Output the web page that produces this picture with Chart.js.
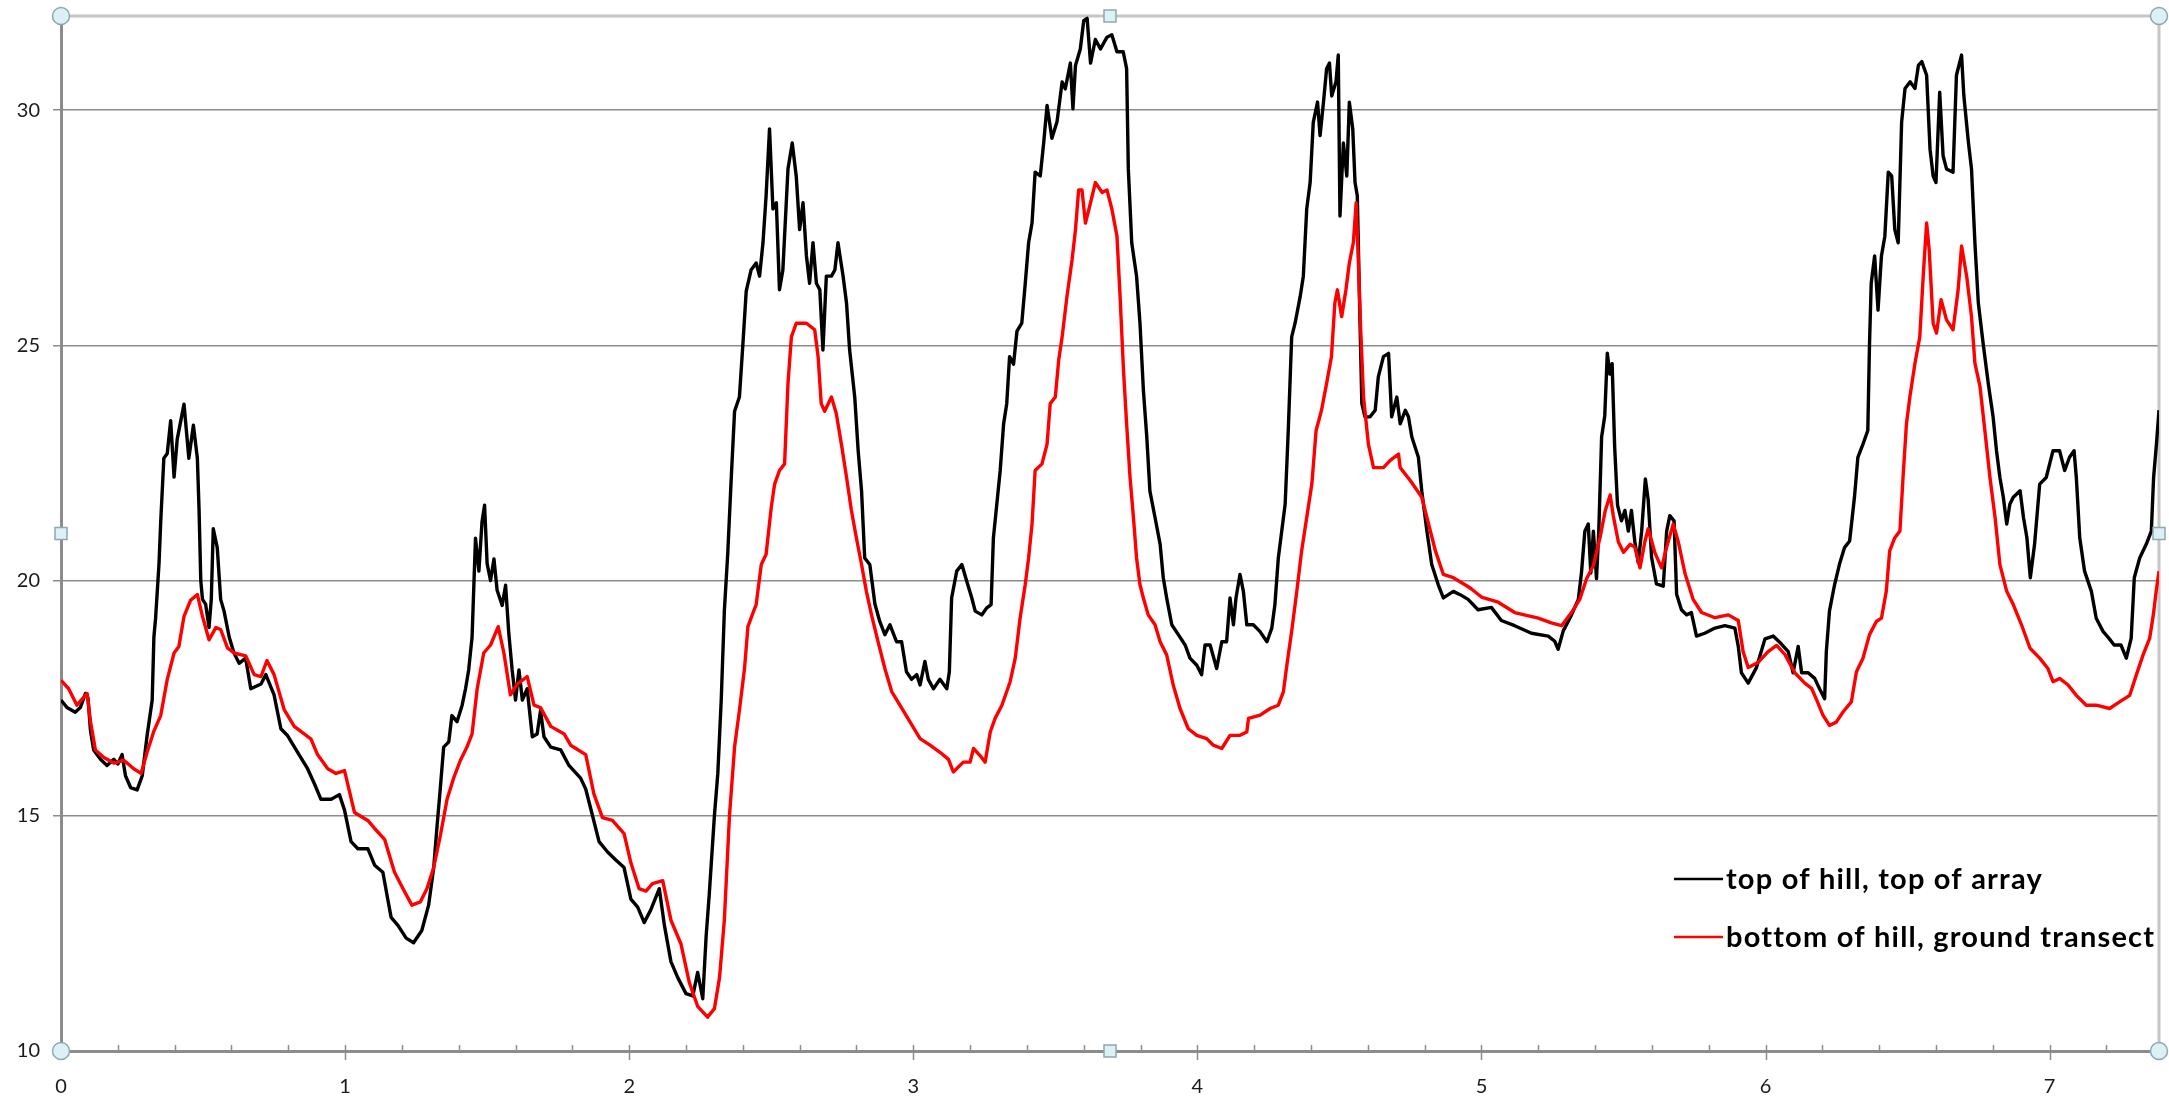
<!DOCTYPE html>
<html>
<head>
<meta charset="utf-8">
<script src="https://cdn.jsdelivr.net/npm/chart.js@4.4.1/dist/chart.umd.min.js"></script>
<style>
  html, body { margin: 0; padding: 0; background: #ffffff; }
  #chart-box { width: 2169px; height: 1096px; }
</style>
</head>
<body>
<div id="chart-box">
  <canvas id="hill-chart" width="2169" height="1096"></canvas>
</div>
<script>
// series (x = distance, y = value)
const topOfHillX = [
    0, 0.021, 0.05, 0.068, 0.086, 0.095, 0.104, 0.115, 0.139, 0.162, 0.186, 0.2, 0.215, 0.227, 0.245, 0.268, 0.286, 0.303, 0.321, 0.327,
    0.333, 0.345, 0.351, 0.362, 0.374, 0.386, 0.398, 0.409, 0.433, 0.45, 0.466, 0.48, 0.486, 0.492, 0.498, 0.509, 0.521, 0.529, 0.536, 0.55,
    0.562, 0.574, 0.592, 0.609, 0.627, 0.65, 0.668, 0.704, 0.721, 0.75, 0.774, 0.798, 0.833, 0.868, 0.892, 0.915, 0.951, 0.98, 0.998, 1.021,
    1.045, 1.08, 1.104, 1.133, 1.151, 1.162, 1.186, 1.215, 1.241, 1.27, 1.294, 1.312, 1.324, 1.335, 1.347, 1.365, 1.376, 1.394, 1.412, 1.424,
    1.435, 1.447, 1.459, 1.471, 1.482, 1.491, 1.5, 1.512, 1.524, 1.535, 1.553, 1.565, 1.576, 1.588, 1.6, 1.612, 1.624, 1.641, 1.659, 1.676,
    1.688, 1.7, 1.724, 1.759, 1.788, 1.829, 1.847, 1.871, 1.894, 1.924, 1.953, 1.982, 2.006, 2.03, 2.053, 2.076, 2.106, 2.124, 2.147, 2.171,
    2.2, 2.224, 2.241, 2.259, 2.271, 2.282, 2.3, 2.312, 2.324, 2.335, 2.347, 2.359, 2.371, 2.388, 2.4, 2.412, 2.429, 2.447, 2.459, 2.471,
    2.482, 2.494, 2.506, 2.518, 2.529, 2.541, 2.559, 2.574, 2.588, 2.6, 2.612, 2.624, 2.635, 2.647, 2.659, 2.671, 2.682, 2.694, 2.712, 2.724,
    2.735, 2.753, 2.765, 2.776, 2.794, 2.806, 2.818, 2.829, 2.847, 2.865, 2.882, 2.9, 2.918, 2.941, 2.959, 2.976, 2.994, 3.012, 3.024, 3.041,
    3.053, 3.071, 3.094, 3.118, 3.127, 3.135, 3.153, 3.171, 3.188, 3.206, 3.218, 3.241, 3.259, 3.274, 3.282, 3.294, 3.306, 3.318, 3.329, 3.339,
    3.353, 3.365, 3.382, 3.394, 3.406, 3.418, 3.429, 3.447, 3.459, 3.471, 3.488, 3.506, 3.524, 3.535, 3.553, 3.562, 3.571, 3.588, 3.6, 3.612,
    3.624, 3.641, 3.659, 3.682, 3.699, 3.717, 3.739, 3.751, 3.757, 3.769, 3.786, 3.798, 3.81, 3.822, 3.833, 3.851, 3.869, 3.88, 3.892, 3.91,
    3.933, 3.957, 3.974, 3.998, 4.015, 4.027, 4.045, 4.068, 4.086, 4.103, 4.115, 4.127, 4.136, 4.15, 4.162, 4.174, 4.197, 4.22, 4.245, 4.262,
    4.273, 4.285, 4.297, 4.309, 4.32, 4.332, 4.344, 4.362, 4.373, 4.385, 4.397, 4.408, 4.423, 4.432, 4.444, 4.455, 4.465, 4.473, 4.488, 4.496,
    4.502, 4.514, 4.526, 4.535, 4.547, 4.555, 4.563, 4.57, 4.579, 4.59, 4.608, 4.626, 4.637, 4.655, 4.673, 4.684, 4.702, 4.714, 4.732, 4.743,
    4.755, 4.778, 4.79, 4.808, 4.825, 4.848, 4.866, 4.901, 4.925, 4.953, 4.988, 5.035, 5.07, 5.117, 5.176, 5.235, 5.258, 5.27, 5.288, 5.317,
    5.341, 5.352, 5.364, 5.376, 5.385, 5.394, 5.405, 5.413, 5.423, 5.434, 5.443, 5.452, 5.46, 5.469, 5.479, 5.493, 5.505, 5.517, 5.528, 5.54,
    5.552, 5.564, 5.577, 5.587, 5.599, 5.616, 5.64, 5.652, 5.663, 5.678, 5.687, 5.704, 5.722, 5.739, 5.757, 5.786, 5.822, 5.857, 5.892, 5.904,
    5.915, 5.939, 5.968, 5.998, 6.027, 6.056, 6.08, 6.097, 6.115, 6.127, 6.15, 6.173, 6.19, 6.208, 6.214, 6.225, 6.243, 6.26, 6.278, 6.296,
    6.313, 6.325, 6.343, 6.36, 6.366, 6.372, 6.384, 6.396, 6.408, 6.42, 6.432, 6.444, 6.455, 6.467, 6.479, 6.491, 6.509, 6.526, 6.538, 6.55,
    6.567, 6.579, 6.59, 6.6, 6.613, 6.625, 6.637, 6.66, 6.672, 6.69, 6.698, 6.714, 6.725, 6.737, 6.749, 6.766, 6.784, 6.801, 6.813, 6.825,
    6.837, 6.849, 6.86, 6.872, 6.896, 6.908, 6.92, 6.932, 6.947, 6.965, 6.988, 7.012, 7.035, 7.053, 7.07, 7.086, 7.094, 7.106, 7.123, 7.147,
    7.164, 7.188, 7.209, 7.227, 7.251, 7.27, 7.287, 7.298, 7.317, 7.34, 7.358, 7.366, 7.376, 7.385
];
const topOfHillY = [
    17.46, 17.3, 17.2, 17.3, 17.6, 17.5, 16.8, 16.4, 16.2, 16.07, 16.2, 16.1, 16.3, 15.85, 15.6, 15.55, 15.85, 16.7, 17.46, 18.8,
    19.2, 20.36, 21.25, 22.6, 22.7, 23.4, 22.2, 23.0, 23.75, 22.6, 23.3, 22.6, 21.5, 20.0, 19.6, 19.5, 19.0, 19.6, 21.1, 20.7,
    19.6, 19.35, 18.8, 18.46, 18.24, 18.35, 17.7, 17.8, 18.0, 17.57, 16.85, 16.7, 16.35, 16.0, 15.68, 15.35, 15.35, 15.45, 15.12, 14.45,
    14.3, 14.3, 13.95, 13.8, 13.2, 12.84, 12.67, 12.4, 12.3, 12.56, 13.1, 13.9, 14.8, 15.57, 16.46, 16.57, 17.13, 17.0, 17.35, 17.7,
    18.1, 18.8, 20.9, 20.2, 21.25, 21.6, 20.36, 20.0, 20.46, 19.8, 19.47, 19.9, 18.9, 18.1, 17.46, 18.1, 17.46, 17.7, 16.68, 16.74,
    17.24, 16.68, 16.46, 16.4, 16.07, 15.8, 15.57, 15.0, 14.45, 14.23, 14.06, 13.9, 13.23, 13.06, 12.73, 13.0, 13.45, 12.67, 11.9, 11.56,
    11.22, 11.17, 11.67, 11.11, 12.45, 13.34, 15.0, 15.9, 17.46, 19.35, 20.58, 22.14, 23.6, 23.9, 25.0, 26.15, 26.6, 26.75, 26.47, 27.18,
    28.18, 29.6, 27.9, 28.03, 26.18, 26.6, 28.75, 29.3, 28.6, 27.46, 28.03, 26.9, 26.32, 27.18, 26.32, 26.18, 24.9, 26.47, 26.47, 26.6,
    27.18, 26.47, 25.9, 24.9, 23.9, 22.76, 21.9, 20.48, 20.34, 19.5, 19.13, 18.85, 19.06, 18.7, 18.7, 18.06, 17.9, 18.0, 17.78, 18.28,
    17.9, 17.7, 17.9, 17.7, 18.06, 19.63, 20.2, 20.34, 19.99, 19.63, 19.35, 19.27, 19.42, 19.49, 20.9, 21.62, 22.34, 23.33, 23.76, 24.76,
    24.6, 25.3, 25.47, 26.3, 27.18, 27.6, 28.68, 28.6, 29.3, 30.1, 29.4, 29.75, 30.6, 30.45, 31.0, 30.03, 30.95, 31.3, 31.9, 31.95,
    31.0, 31.5, 31.3, 31.55, 31.6, 31.24, 31.24, 30.88, 28.75, 27.18, 26.47, 25.47, 24.05, 23.05, 21.9, 21.34, 20.77, 20.06, 19.63, 19.06,
    18.85, 18.63, 18.35, 18.2, 18.0, 18.63, 18.63, 18.13, 18.7, 18.7, 19.63, 19.06, 19.63, 20.13, 19.77, 19.06, 19.06, 18.92, 18.7, 18.99,
    19.49, 20.48, 21.05, 21.62, 23.19, 25.18, 25.47, 26.04, 26.47, 27.9, 28.46, 29.74, 30.17, 29.46, 30.17, 30.88, 31.0, 30.3, 30.6, 31.17,
    27.75, 29.3, 28.6, 30.17, 29.6, 28.46, 28.18, 26.18, 23.76, 23.48, 23.48, 23.62, 24.33, 24.76, 24.83, 23.48, 23.9, 23.33, 23.62, 23.48,
    23.05, 22.62, 21.9, 21.05, 20.34, 19.91, 19.63, 19.77, 19.7, 19.6, 19.38, 19.43, 19.15, 19.04, 18.88, 18.82, 18.71, 18.54, 18.93, 19.27,
    19.6, 20.16, 21.05, 21.2, 20.16, 21.05, 20.04, 21.05, 23.05, 23.5, 24.83, 24.39, 24.61, 22.83, 21.6, 21.27, 21.49, 21.05, 21.49, 20.82,
    20.38, 21.05, 22.16, 21.71, 20.49, 19.93, 19.88, 21.05, 21.38, 21.27, 19.71, 19.38, 19.27, 19.32, 18.82, 18.88, 18.99, 19.04, 18.99, 18.6,
    18.04, 17.82, 18.15, 18.76, 18.82, 18.65, 18.49, 18.04, 18.6, 18.04, 18.04, 17.92, 17.7, 17.49, 18.49, 19.35, 19.91, 20.34, 20.7, 20.84,
    21.77, 22.62, 22.9, 23.19, 25.04, 26.32, 26.9, 25.75, 26.9, 27.32, 28.68, 28.6, 27.46, 27.18, 29.74, 30.46, 30.6, 30.46, 30.95, 31.03,
    30.74, 29.17, 28.6, 28.46, 30.38, 29.03, 28.75, 28.68, 30.74, 31.17, 30.31, 29.32, 28.75, 27.18, 25.9, 25.04, 24.19, 23.48, 22.76, 22.19,
    21.77, 21.2, 21.62, 21.77, 21.91, 21.34, 20.91, 20.06, 20.77, 22.05, 22.19, 22.76, 22.76, 22.34, 22.62, 22.76, 22.19, 20.91, 20.2, 19.77,
    19.2, 18.92, 18.77, 18.63, 18.63, 18.35, 18.77, 20.06, 20.48, 20.77, 21.05, 22.19, 22.9, 23.62
];

const groundTransectX = [
    0, 0.027, 0.056, 0.092, 0.104, 0.121, 0.151, 0.186, 0.221, 0.256, 0.282, 0.303, 0.327, 0.351, 0.374, 0.398, 0.415, 0.433, 0.456, 0.48,
    0.498, 0.521, 0.545, 0.562, 0.586, 0.609, 0.65, 0.68, 0.704, 0.725, 0.75, 0.786, 0.821, 0.856, 0.88, 0.903, 0.939, 0.968, 0.998, 1.033,
    1.08, 1.104, 1.139, 1.174, 1.204, 1.235, 1.265, 1.288, 1.312, 1.335, 1.359, 1.382, 1.406, 1.429, 1.447, 1.465, 1.488, 1.512, 1.539, 1.559,
    1.582, 1.606, 1.641, 1.665, 1.688, 1.724, 1.771, 1.794, 1.847, 1.876, 1.906, 1.941, 1.982, 2.006, 2.035, 2.059, 2.082, 2.118, 2.147, 2.182,
    2.212, 2.241, 2.276, 2.3, 2.318, 2.335, 2.353, 2.371, 2.388, 2.406, 2.418, 2.435, 2.447, 2.465, 2.482, 2.5, 2.512, 2.529, 2.547, 2.559,
    2.571, 2.588, 2.624, 2.653, 2.665, 2.676, 2.688, 2.712, 2.729, 2.747, 2.765, 2.782, 2.8, 2.818, 2.835, 2.853, 2.876, 2.9, 2.924, 2.953,
    2.988, 3.024, 3.059, 3.094, 3.124, 3.141, 3.176, 3.2, 3.212, 3.235, 3.253, 3.271, 3.288, 3.312, 3.341, 3.359, 3.376, 3.394, 3.406, 3.418,
    3.429, 3.453, 3.471, 3.482, 3.5, 3.512, 3.524, 3.541, 3.559, 3.571, 3.582, 3.594, 3.606, 3.624, 3.641, 3.665, 3.682, 3.699, 3.717, 3.728,
    3.74, 3.751, 3.763, 3.775, 3.786, 3.798, 3.81, 3.827, 3.851, 3.869, 3.892, 3.915, 3.939, 3.968, 3.998, 4.033, 4.056, 4.086, 4.115, 4.15,
    4.174, 4.18, 4.221, 4.256, 4.285, 4.303, 4.315, 4.332, 4.35, 4.367, 4.385, 4.403, 4.418, 4.437, 4.455, 4.472, 4.484, 4.493, 4.508, 4.523,
    4.535, 4.549, 4.559, 4.567, 4.575, 4.585, 4.602, 4.62, 4.655, 4.678, 4.708, 4.714, 4.75, 4.79, 4.808, 4.838, 4.866, 4.901, 4.948, 4.965,
    5.0, 5.059, 5.117, 5.2, 5.246, 5.282, 5.317, 5.346, 5.37, 5.394, 5.418, 5.436, 5.453, 5.464, 5.482, 5.5, 5.523, 5.54, 5.558, 5.575,
    5.587, 5.61, 5.634, 5.652, 5.675, 5.693, 5.716, 5.745, 5.775, 5.822, 5.869, 5.904, 5.921, 5.939, 5.974, 6.009, 6.039, 6.068, 6.103, 6.138,
    6.162, 6.178, 6.202, 6.225, 6.249, 6.272, 6.302, 6.32, 6.343, 6.366, 6.39, 6.408, 6.425, 6.437, 6.455, 6.473, 6.484, 6.496, 6.508, 6.526,
    6.543, 6.555, 6.567, 6.576, 6.59, 6.602, 6.618, 6.637, 6.66, 6.678, 6.69, 6.708, 6.725, 6.737, 6.755, 6.772, 6.79, 6.808, 6.825, 6.849,
    6.872, 6.901, 6.931, 6.965, 6.994, 7.012, 7.035, 7.065, 7.094, 7.129, 7.164, 7.211, 7.246, 7.282, 7.305, 7.329, 7.352, 7.365, 7.375, 7.385
];
const groundTransectY = [
    17.88, 17.7, 17.35, 17.6, 17.0, 16.4, 16.24, 16.12, 16.18, 16.0, 15.9, 16.35, 16.8, 17.13, 17.9, 18.46, 18.6, 19.24, 19.58, 19.7,
    19.24, 18.74, 19.0, 18.96, 18.57, 18.46, 18.4, 18.0, 17.96, 18.3, 18.0, 17.25, 16.9, 16.74, 16.63, 16.3, 16.0, 15.9, 15.96, 15.07,
    14.9, 14.73, 14.5, 13.8, 13.45, 13.1, 13.17, 13.45, 13.9, 14.57, 15.35, 15.8, 16.18, 16.46, 16.74, 17.7, 18.46, 18.63, 19.02, 18.46,
    17.57, 17.8, 17.96, 17.35, 17.3, 16.9, 16.74, 16.5, 16.3, 15.46, 14.96, 14.9, 14.62, 14.0, 13.45, 13.4, 13.56, 13.62, 12.78, 12.28,
    11.45, 10.95, 10.72, 10.9, 11.56, 12.78, 15.0, 16.46, 17.24, 18.13, 19.02, 19.3, 19.49, 20.34, 20.56, 21.55, 22.05, 22.34, 22.48, 24.19,
    25.18, 25.47, 25.47, 25.33, 24.76, 23.76, 23.6, 23.9, 23.55, 22.9, 22.2, 21.5, 20.9, 20.34, 19.77, 19.27, 18.7, 18.13, 17.64, 17.35,
    17.0, 16.64, 16.5, 16.35, 16.2, 15.93, 16.14, 16.14, 16.43, 16.28, 16.14, 16.78, 17.07, 17.35, 17.85, 18.35, 19.2, 19.91, 20.48, 21.2,
    22.34, 22.48, 22.9, 23.76, 23.9, 24.69, 25.18, 26.04, 26.82, 27.46, 28.3, 28.3, 27.6, 28.03, 28.46, 28.25, 28.3, 27.9, 27.32, 26.04,
    24.47, 23.33, 22.2, 21.34, 20.48, 19.91, 19.63, 19.27, 19.06, 18.7, 18.42, 17.78, 17.28, 16.85, 16.71, 16.64, 16.5, 16.43, 16.71, 16.71,
    16.78, 17.07, 17.14, 17.28, 17.35, 17.64, 18.2, 18.92, 19.77, 20.63, 21.34, 22.05, 23.19, 23.62, 24.19, 24.76, 25.9, 26.18, 25.61, 26.18,
    26.75, 27.18, 28.03, 26.75, 25.33, 23.9, 22.9, 22.4, 22.4, 22.55, 22.69, 22.4, 22.12, 21.77, 21.34, 20.63, 20.13, 20.06, 19.89, 19.82,
    19.65, 19.54, 19.32, 19.2, 19.1, 19.04, 19.32, 19.6, 20.04, 20.32, 20.93, 21.49, 21.82, 21.38, 20.82, 20.6, 20.77, 20.71, 20.27, 20.82,
    21.1, 20.6, 20.27, 20.71, 21.2, 20.82, 20.16, 19.6, 19.32, 19.21, 19.27, 19.15, 18.49, 18.15, 18.26, 18.49, 18.62, 18.43, 18.04, 17.82,
    17.71, 17.49, 17.14, 16.92, 16.99, 17.2, 17.42, 18.06, 18.35, 18.85, 19.13, 19.2, 19.77, 20.63, 20.91, 21.05, 22.19, 23.33, 23.9, 24.62,
    25.18, 26.47, 27.6, 27.04, 25.47, 25.26, 25.97, 25.54, 25.33, 26.18, 27.11, 26.47, 25.61, 24.62, 24.12, 23.19, 22.19, 21.34, 20.34, 19.77,
    19.49, 19.06, 18.56, 18.35, 18.13, 17.85, 17.92, 17.78, 17.56, 17.35, 17.35, 17.28, 17.42, 17.56, 17.99, 18.42, 18.77, 19.27, 19.77, 20.2
];

const yTickValues = [10, 15, 20, 25, 30];
const xTickLabels = [0, 1, 2, 3, 4, 5, 6, 7];

const toPoints = (xs, ys) => xs.map((x, i) => ({ x: x, y: ys[i] }));

// Excel look: light frame, minor ticks, selection handles and the in-plot legend
const excelFrame = {
    id: 'excelFrame',
    beforeDatasetsDraw(chart) {
        const { ctx, chartArea } = chart;
        ctx.save();
        ctx.strokeStyle = '#c6c6c6';
        ctx.lineWidth = 3;
        ctx.beginPath();
        ctx.moveTo(chartArea.left, chartArea.top);
        ctx.lineTo(chartArea.right, chartArea.top);
        ctx.lineTo(chartArea.right, chartArea.bottom);
        ctx.stroke();
        ctx.restore();
    },
    afterDraw(chart) {
        const { ctx, chartArea } = chart;
        const xScale = chart.scales.x;
        const bottom = chartArea.bottom;

        // x tick marks: minor ones inside, majors cross the axis
        ctx.save();
        ctx.strokeStyle = '#8c8c8c';
        ctx.lineWidth = 1.5;
        for (let i = 0; i * 0.2 <= xScale.max + 1e-9; i++) {
            const px = Math.round(xScale.getPixelForValue(i * 0.2)) + 0.5;
            ctx.beginPath();
            ctx.moveTo(px, bottom - 6);
            ctx.lineTo(px, i % 5 === 0 ? bottom + 9 : bottom);
            ctx.stroke();
        }
        ctx.restore();

        // legend
        ctx.save();
        ctx.font = 'bold 29px Lato';
        ctx.letterSpacing = '1.2px';
        ctx.textBaseline = 'middle';
        ctx.textAlign = 'left';
        const rowY = [bottom - 172, bottom - 114];
        chart.data.datasets.forEach((ds, i) => {
            const y = rowY[i];
            ctx.strokeStyle = ds.borderColor;
            ctx.lineWidth = 2.5;
            ctx.beginPath();
            ctx.moveTo(chartArea.right - 485, y);
            ctx.lineTo(chartArea.right - 436, y);
            ctx.stroke();
            ctx.fillStyle = '#000000';
            ctx.fillText(ds.label, chartArea.right - 433, y + 1);
        });
        ctx.restore();

        // selection handles
        const midX = (chartArea.left + chartArea.right) / 2;
        const midY = (chartArea.top + chartArea.bottom) / 2;
        ctx.save();
        ctx.fillStyle = '#dcf1f6';
        ctx.strokeStyle = '#8da7b5';
        ctx.lineWidth = 1.5;
        [[chartArea.left, chartArea.top], [chartArea.right, chartArea.top],
         [chartArea.left, chartArea.bottom], [chartArea.right, chartArea.bottom]].forEach(p => {
            ctx.beginPath();
            ctx.arc(p[0], p[1], 8.5, 0, Math.PI * 2);
            ctx.fill();
            ctx.stroke();
        });
        [[midX, chartArea.top], [midX, chartArea.bottom],
         [chartArea.left, midY], [chartArea.right, midY]].forEach(p => {
            ctx.fillRect(p[0] - 6, p[1] - 6, 12, 12);
            ctx.strokeRect(p[0] - 6, p[1] - 6, 12, 12);
        });
        ctx.restore();
    }
};

const canvasContext = document.getElementById('hill-chart').getContext('2d');

const chartConfig = {
    type: 'line',
    data: {
        datasets: [
            {
                label: 'top of hill, top of array',
                data: toPoints(topOfHillX, topOfHillY),
                borderColor: '#000000',
                borderWidth: 3.4,
                order: 2
            },
            {
                label: 'bottom of hill, ground transect',
                data: toPoints(groundTransectX, groundTransectY),
                borderColor: '#ff0000',
                borderWidth: 3.4,
                order: 1
            }
        ]
    },
    options: {
        responsive: false,
        animation: false,
        devicePixelRatio: 1,
        layout: { padding: { top: 16, right: 10, left: 0, bottom: 0 } },
        elements: {
            point: { radius: 0, hoverRadius: 0 },
            line: { tension: 0, borderJoinStyle: 'round' }
        },
        plugins: {
            legend: { display: false },
            tooltip: { enabled: false }
        },
        scales: {
            x: {
                type: 'linear',
                min: 0,
                max: 7.385,
                afterFit: scale => {
                    scale.height = 45;
                    scale.paddingLeft = 0;
                    scale.paddingRight = 0;
                },
                afterBuildTicks: scale => { scale.ticks = xTickLabels.map(v => ({ value: v })); },
                grid: { drawOnChartArea: false, drawTicks: false },
                border: { color: '#8c8c8c', width: 3 },
                ticks: {
                    padding: 24,
                    color: '#1a1a1a',
                    font: { family: 'Lato', size: 20 },
                    maxRotation: 0,
                    autoSkip: false
                }
            },
            y: {
                min: 10,
                max: 32,
                afterFit: scale => {
                    scale.width = 61;
                    scale.paddingTop = 0;
                    scale.paddingBottom = 0;
                },
                afterBuildTicks: scale => { scale.ticks = yTickValues.map(v => ({ value: v })); },
                grid: { color: '#8c8c8c', lineWidth: 1.5, tickLength: 8 },
                border: { color: '#8c8c8c', width: 3 },
                ticks: {
                    padding: 13,
                    color: '#1a1a1a',
                    font: { family: 'Lato', size: 20 }
                }
            }
        }
    },
    plugins: [excelFrame]
};

new Chart(canvasContext, chartConfig);
</script>
</body>
</html>
